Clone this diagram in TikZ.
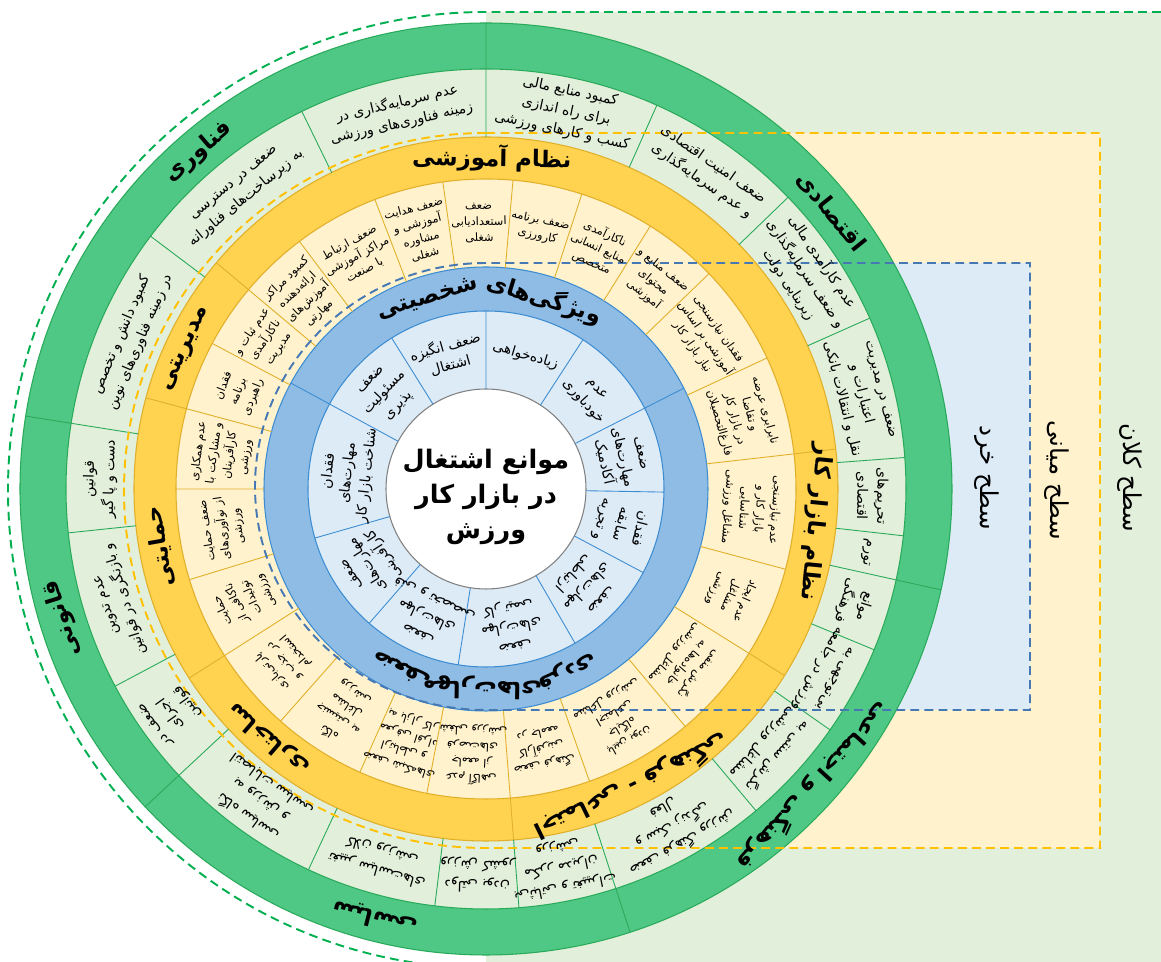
\documentclass[tikz,border=0pt]{standalone}
\usepackage{fontspec}
\newfontfamily\fafont[Script=Arabic]{DejaVu Sans}
\TeXXeTstate=1
\newcommand{\fa}[1]{\beginR#1\endR}

\definecolor{gdark}{RGB}{80,200,133}
\definecolor{gline}{RGB}{40,170,90}
\definecolor{glight}{RGB}{226,239,218}
\definecolor{gdash}{RGB}{0,176,80}
\definecolor{yring}{RGB}{255,210,80}
\definecolor{ycream}{RGB}{255,242,204}
\definecolor{yline}{RGB}{225,175,40}
\definecolor{ydash}{RGB}{255,192,0}
\definecolor{bring}{RGB}{143,188,228}
\definecolor{blight}{RGB}{221,235,247}
\definecolor{bline}{RGB}{60,140,210}
\definecolor{bdash}{RGB}{70,120,180}

\begin{document}
\begin{tikzpicture}[
    x=0.02cm, y=0.02cm,
    bsec/.style={font=\fafont\fontsize{8}{11}\selectfont, align=center, inner sep=0pt},
    csec/.style={font=\fafont\fontsize{6.5}{9}\selectfont, align=center, inner sep=0pt},
    gsec/.style={font=\fafont\fontsize{8}{11.5}\selectfont, align=center, inner sep=0pt},
    ringlab/.style={font=\fafont\bfseries\fontsize{13}{16}\selectfont, inner sep=0pt},
    level/.style={font=\fafont\fontsize{14}{17}\selectfont, inner sep=0pt, rotate=-90},
    gsep/.style={draw=gline, line width=0.5pt},
    ysep/.style={draw=yline, line width=0.5pt},
    bsep/.style={draw=bline, line width=0.5pt},
    dashline/.style={line width=1.1pt, dash pattern=on 5pt off 3pt}
]

\clip (-486,-473) rectangle (675,489);

% Hintergrund der Ebenen
\fill[glight] (0,-473) rectangle (675,477);
\fill[ycream] (0,-359) rectangle (614,356);
\fill[blight] (0,-221) rectangle (544,226);

% Ringe
\filldraw[fill=gdark, draw=gline, line width=0.6pt] (0,0) circle[radius=466];
\filldraw[fill=glight, draw=gline, line width=0.6pt] (0,0) circle[radius=420];
\filldraw[fill=yring, draw=yline, line width=0.6pt] (0,0) circle[radius=352];
\filldraw[fill=ycream, draw=yline, line width=0.6pt] (0,0) circle[radius=310];
\filldraw[fill=bring, draw=bline, line width=0.6pt] (0,0) circle[radius=222];
\filldraw[fill=blight, draw=bline, line width=0.6pt] (0,0) circle[radius=178];
\filldraw[fill=white, draw=gray, line width=0.6pt] (0,0) circle[radius=100];

% Trennlinien
\draw[gsep] (90:352) -- (90:466) (171:352) -- (171:466) (223:352) -- (223:466)
  (288:352) -- (288:466) (347.5:352) -- (347.5:466);
\draw[gsep] (116:352) -- (116:420) (143:352) -- (143:420) (186:352) -- (186:420)
  (208:352) -- (208:420) (245:352) -- (245:420) (263:352) -- (263:420)
  (274.5:352) -- (274.5:420) (310:352) -- (310:420) (325:352) -- (325:420)
  (337.5:352) -- (337.5:420) (353.6:352) -- (353.6:420) (4.3:352) -- (4.3:420)
  (24:352) -- (24:420) (44:352) -- (44:420) (66:352) -- (66:420);
\draw[ysep] (140:222) -- (140:352) (165:222) -- (165:352) (212.5:222) -- (212.5:352)
  (274.5:222) -- (274.5:352) (328:222) -- (328:352) (6.5:222) -- (6.5:352);
\draw[ysep] (127:222) -- (127:310) (111:222) -- (111:310) (98:222) -- (98:310)
  (85:222) -- (85:310) (72:222) -- (72:310) (58:222) -- (58:310)
  (44:222) -- (44:310) (25:222) -- (25:310) (345:222) -- (345:310)
  (310:222) -- (310:310) (289.5:222) -- (289.5:310) (259:222) -- (259:310)
  (246:222) -- (246:310) (228.5:222) -- (228.5:310) (197:222) -- (197:310)
  (180:222) -- (180:310) (152:222) -- (152:310);
\draw[bsep] (27:100) -- (27:222) (151.5:100) -- (151.5:222);
\draw[bsep] (90:100) -- (90:178) (57:100) -- (57:178) (-1:100) -- (-1:178)
  (-28:100) -- (-28:178) (-60:100) -- (-60:178) (-99:100) -- (-99:178)
  (-131:100) -- (-131:178) (-164:100) -- (-164:178) (122:100) -- (122:178);

% gestrichelte Ebenen
\draw[gdash, dashline] (675,477) -- (0,477) arc[start angle=90, end angle=270, radius=478];
\draw[ydash, dashline] (0,356) arc[start angle=90, end angle=270, x radius=362, y radius=357.5]
  -- (614,-359) -- (614,356) -- cycle;
\draw[bdash, dashline] (0,226) arc[start angle=90, end angle=270, x radius=231, y radius=223.5]
  -- (544,-221) -- (544,226) -- cycle;

% Mitte
\node[font=\fafont\bfseries\fontsize{14.5}{20}\selectfont, align=center] (core) at (0,-8)
  {\fa{موانع اشتغال}\\\fa{در بازار کار}\\\fa{ورزش}};

% innerer Ring
\node[bsec, rotate=16] (b1) at (106:139) {\fa{ضعف انگیزه}\\\fa{اشتغال}};
\node[bsec, rotate=-16.5] (b2) at (73.5:139) {\fa{زیاده‌خواهی}};
\node[bsec, rotate=-48] (b3) at (42:139) {\fa{عدم}\\\fa{خودباوری}};
\node[bsec, rotate=46.5] (b4) at (136.5:139) {\fa{ضعف}\\\fa{مسئولیت}\\\fa{پذیری}};
\node[bsec, rotate=83.5] (b5) at (173.5:139) {\fa{فقدان}\\\fa{مهارت‌های}\\\fa{شناخت بازار کار}};
\node[bsec, rotate=-77] (b6) at (13:139) {\fa{ضعف}\\\fa{مهارت‌های}\\\fa{آکادمیک}};
\node[bsec, rotate=-104.5] (b7) at (-14.5:139) {\fa{فقدان}\\\fa{سابقه}\\\fa{و تجربه}};
\node[bsec, rotate=-134] (b8) at (-44:139) {\fa{ضعف}\\\fa{مهارت‌های}\\\fa{ارتباطی}};
\node[bsec, rotate=-169.5] (b9) at (-79.5:139) {\fa{ضعف}\\\fa{مهارت‌های}\\\fa{کار تیمی}};
\node[bsec, rotate=-205] (b10) at (-115:139) {\fa{ضعف}\\\fa{مهارت‌های}\\\fa{فنی و تخصصی}};
\node[bsec, rotate=-237.5] (b11) at (-147.5:139) {\fa{ضعف}\\\fa{مهارت‌های}\\\fa{کارآفرینی}};

\node[ringlab, rotate=-17] (shakh1) at (73:199) {\fa{ویژگی‌های}};
\node[ringlab, rotate=17] (shakh2) at (107:199) {\fa{شخصیتی}};
\node[ringlab, rotate=-205] (mah1) at (-115:199) {\fa{ضعف}};
\node[ringlab, rotate=-181] (mah2) at (-91:199) {\fa{مهارت‌های}};
\node[ringlab, rotate=-156] (mah3) at (-66:199) {\fa{فردی}};

% mittlerer Ring
\node[csec, rotate=43.5] (c1) at (133.5:266) {\fa{کمبود مراکز}\\\fa{ارائه‌دهنده}\\\fa{آموزش‌های}\\\fa{مهارتی}};
\node[csec, rotate=29] (c2) at (119:266) {\fa{ضعف ارتباط}\\\fa{مراکز آموزشی}\\\fa{با صنعت}};
\node[csec, rotate=14.5] (c3) at (104.5:266) {\fa{ضعف هدایت}\\\fa{آموزشی و}\\\fa{مشاوره}\\\fa{شغلی}};
\node[csec, rotate=1.5] (c4) at (91.5:266) {\fa{ضعف}\\\fa{استعدادیابی}\\\fa{شغلی}};
\node[csec, rotate=-11.5] (c5) at (78.5:266) {\fa{ضعف برنامه}\\\fa{کارورزی}};
\node[csec, rotate=-25] (c6) at (65:266) {\fa{ناکارآمدی}\\\fa{منابع انسانی}\\\fa{متخصص}};
\node[csec, rotate=-39] (c7) at (51:266) {\fa{ضعف منابع و}\\\fa{محتوای}\\\fa{آموزشی}};
\node[csec, rotate=-55.5] (c8) at (34.5:266) {\fa{فقدان نیازسنجی}\\\fa{آموزشی بر اساس}\\\fa{نیاز بازار کار}};
\node[csec, rotate=-74.25] (c9) at (15.75:266) {\fa{نابرابری عرضه}\\\fa{و تقاضا}\\\fa{در بازار کار}\\\fa{فارغ‌التحصیلان}};
\node[csec, rotate=-94.25] (c10) at (-4.25:266) {\fa{عدم نیازسنجی}\\\fa{بازار کار و}\\\fa{شناسایی}\\\fa{مشاغل ورزشی}};
\node[csec, rotate=-113.5] (c11) at (-23.5:266) {\fa{عدم ایجاد}\\\fa{مشاغل}\\\fa{ورزشی}};
\node[csec, rotate=-131] (c12) at (-41:266) {\fa{نگرش منفی}\\\fa{خانواده‌ها به}\\\fa{مشاغل ورزشی}};
\node[csec, rotate=-150.25] (c13) at (-60.25:266) {\fa{پایین بودن}\\\fa{جایگاه}\\\fa{اجتماعی}\\\fa{مشاغل ورزشی}};
\node[csec, rotate=-168] (c14) at (-78:266) {\fa{ضعف فرهنگ}\\\fa{کارآفرینی}\\\fa{در جامعه}};
\node[csec, rotate=-183] (c15) at (-93:266) {\fa{عدم آگاهی}\\\fa{جامعه از}\\\fa{فرصت‌های}\\\fa{شغلی ورزشی}};
\node[csec, rotate=162.5] (c16) at (252.5:266) {\fa{ضعف شبکه‌های}\\\fa{ارتباطی و}\\\fa{معرفی افراد}\\\fa{به بازار کار}};
\node[csec, rotate=147.25] (c17) at (237.25:266) {\fa{نگاه}\\\fa{جنسیتی به}\\\fa{مشاغل}\\\fa{ورزشی}};
\node[csec, rotate=130.5] (c18) at (220.5:266) {\fa{پارتی‌بازی}\\\fa{در جذب و}\\\fa{استخدام}};
\node[csec, rotate=114.75] (c19) at (204.75:266) {\fa{حمایت}\\\fa{ناکافی از}\\\fa{تولیدات}\\\fa{ورزشی}};
\node[csec, rotate=98.5] (c20) at (188.5:266) {\fa{ضعف حمایت}\\\fa{از نوآوری‌های}\\\fa{ورزشی}};
\node[csec, rotate=82.5] (c21) at (172.5:266) {\fa{عدم همکاری}\\\fa{و مشارکت با}\\\fa{کارآفرینان}\\\fa{ورزشی}};
\node[csec, rotate=68.5] (c22) at (158.5:266) {\fa{فقدان}\\\fa{برنامه}\\\fa{راهبردی}};
\node[csec, rotate=56] (c23) at (146:266) {\fa{عدم ثبات و}\\\fa{ناکارآمدی}\\\fa{مدیریت}};

\node[ringlab, rotate=-1] (amz) at (89:331) {\fa{نظام آموزشی}};
\node[ringlab, rotate=65] (mod) at (155:331) {\fa{مدیریتی}};
\node[ringlab, rotate=100] (hem) at (190:331) {\fa{حمایتی}};
\node[ringlab, rotate=139] (sakh) at (229:331) {\fa{ساختاری}};
\node[ringlab, rotate=-154] (fer) at (-64:331) {\fa{اجتماعی - فرهنگی}};
\node[ringlab, rotate=-95.7] (bazar) at (-5.7:331) {\fa{نظام بازار کار}};

% äußerer Ring
\node[gsec, rotate=13] (g1) at (103:386) {\fa{عدم سرمایه‌گذاری در}\\\fa{زمینه فناوری‌های ورزشی}};
\node[gsec, rotate=39.5] (g2) at (129.5:386) {\fa{ضعف در دسترسی}\\\fa{به زیرساخت‌های فناورانه}};
\node[gsec, rotate=67] (g3) at (157:386) {\fa{کمبود دانش و تخصص}\\\fa{در زمینه فناوری‌های نوین}};
\node[gsec, rotate=-12] (g4) at (78:386) {\fa{کمبود منابع مالی}\\\fa{برای راه اندازی}\\\fa{کسب و کارهای ورزشی}};
\node[gsec, rotate=-35] (g5) at (55:386) {\fa{ضعف امنیت اقتصادی}\\\fa{و عدم سرمایه‌گذاری}};
\node[gsec, rotate=-56] (g6) at (34:386) {\fa{عدم کارآمدی مالی}\\\fa{و ضعف سرمایه‌گذاری}\\\fa{زیربنایی دولت}};
\node[gsec, rotate=-75.85] (g7) at (14.15:386) {\fa{ضعف در مدیریت}\\\fa{اعتبارات و}\\\fa{نقل و انتقالات بانکی}};
\node[gsec, rotate=-91] (g8) at (-1:386) {\fa{تحریم‌های}\\\fa{اقتصادی}};
\node[gsec, rotate=-99.45] (g9) at (-9.45:386) {\fa{تورم}};
\node[gsec, rotate=-107.25] (g10) at (-17.25:386) {\fa{موانع}\\\fa{فرهنگی}};
\node[gsec, rotate=-118.5] (g11) at (-28.5:386) {\fa{بی‌توجهی به}\\\fa{ورزش در جامعه}};
\node[gsec, rotate=-132.5] (g12) at (-42.5:386) {\fa{نگرش سنتی به}\\\fa{مشاغل ورزشی}};
\node[gsec, rotate=-151] (g13) at (-61:386) {\fa{ضعف فرهنگ ورزش}\\\fa{و سبک زندگی}\\\fa{فعال}};
\node[gsec, rotate=-168.75] (g14) at (-78.75:386) {\fa{بی‌ثباتی و تغییرات}\\\fa{مکرر مدیران}\\\fa{ورزشی}};
\node[gsec, rotate=-181.25] (g15) at (-91.25:386) {\fa{دولتی بودن}\\\fa{ورزش کشور}};
\node[gsec, rotate=164] (g16) at (254:386) {\fa{تغییر سیاست‌های}\\\fa{کلان ورزشی}};
\node[gsec, rotate=144] (g17) at (234:386) {\fa{نگاه سیاسی}\\\fa{به ورزش و}\\\fa{انتصابات سیاسی}};
\node[gsec, rotate=125.5] (g18) at (215.5:386) {\fa{ضعف در}\\\fa{اجرای}\\\fa{قوانین}};
\node[gsec, rotate=107] (g19) at (197:386) {\fa{عدم تدوین}\\\fa{و بازنگری در قوانین}};
\node[gsec, rotate=88.5] (g20) at (178.5:386) {\fa{قوانین}\\\fa{دست و پا گیر}};

\node[ringlab, rotate=40.5] (fan) at (130.5:443) {\fa{فناوری}};
\node[ringlab, rotate=-51.25] (eqt) at (38.75:443) {\fa{اقتصادی}};
\node[ringlab, rotate=107] (qan) at (197:443) {\fa{قانونی}};
\node[ringlab, rotate=165.5] (sia) at (255.5:443) {\fa{سیاسی}};
\node[ringlab, rotate=-132.25] (ejt) at (-42.25:443) {\fa{فرهنگی و اجتماعی}};

% Ebenen rechts
\node[level] (micro) at (501,11) {\fa{سطح خرد}};
\node[level] (meso) at (571,9) {\fa{سطح میانی}};
\node[level] (macro) at (644,11) {\fa{سطح کلان}};

\end{tikzpicture}
\end{document}
